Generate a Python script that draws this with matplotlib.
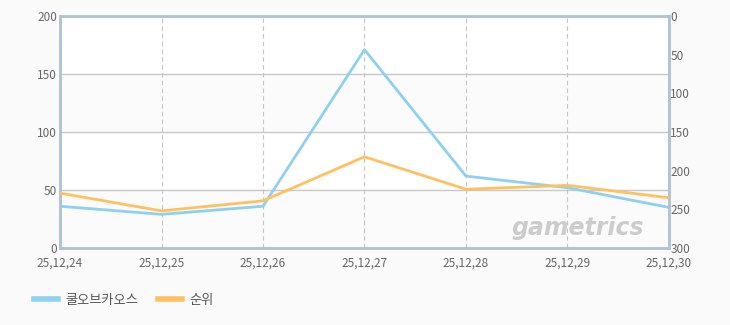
import matplotlib.pyplot as plt

plt.rcParams['font.family'] = ['Noto Sans CJK KR', 'DejaVu Sans']

# data
dates = ["25,12,24", "25,12,25", "25,12,26", "25,12,27", "25,12,28", "25,12,29", "25,12,30"]
players = [36, 29, 36, 171, 62, 52, 35]       # 쿨오브카오스, left axis
ranks = [229, 252, 239, 182, 224, 219, 235]   # 순위, right axis (inverted)

blue = '#8fd0f0'
orange = '#ffc160'
spine_col = '#b0c2d6'

fig = plt.figure(figsize=(7.3, 3.25), dpi=100, facecolor='#fafafa')
ax = fig.add_axes([0.0822, 0.2369, 0.8342, 0.7138])
ax.set_facecolor('white')

x = range(len(dates))
ax.set_xlim(0, len(dates) - 1)
ax.set_ylim(0, 200)

# alternating bands
for lo in (0, 100):
    ax.axhspan(lo, lo + 50, color='#fbfbfb', zorder=0)

for yv in (50, 100, 150):
    ax.axhline(yv, color='#c8c8c8', lw=1, zorder=1)
for xv in x[1:-1]:
    ax.axvline(xv, color='#c4c4c4', lw=0.8, ls=(0, (4, 3)), zorder=1)

ax2 = ax.twinx()
ax2.set_ylim(300, 0)

ax.plot(x, players, color=blue, lw=2, zorder=3, label='쿨오브카오스')
ax2.plot(x, ranks, color=orange, lw=2, zorder=3, label='순위')

ax.set_yticks([0, 50, 100, 150, 200])
ax2.set_yticks([0, 50, 100, 150, 200, 250, 300])
ax.set_xticks(list(x))
ax.set_xticklabels(dates)

for a in (ax, ax2):
    a.tick_params(length=0, labelsize=8.5, colors='#666666')
    for s in a.spines.values():
        s.set_color(spine_col)
        s.set_linewidth(1.8)
ax.tick_params(axis='y', pad=2)
ax2.tick_params(axis='y', pad=1)
ax.tick_params(axis='x', pad=6)

ax2.text(0.96, 0.085, 'gametrics', transform=ax.transAxes, ha='right', va='center',
         fontsize=17, fontweight='bold', style='italic', color='#cccccc',
         family='DejaVu Sans', zorder=2)

h1, l1 = ax.get_legend_handles_labels()
h2, l2 = ax2.get_legend_handles_labels()
fig.legend(h1 + h2, l1 + l2, loc='lower left', bbox_to_anchor=(0.03, 0.02),
           ncol=2, frameon=False, fontsize=9.5, handlelength=1.8, handletextpad=0.6,
           columnspacing=1.5, labelcolor='#555555')
for line in fig.legends[0].get_lines():
    line.set_linewidth(4)

fig.savefig('out.png', dpi=100, facecolor=fig.get_facecolor())
